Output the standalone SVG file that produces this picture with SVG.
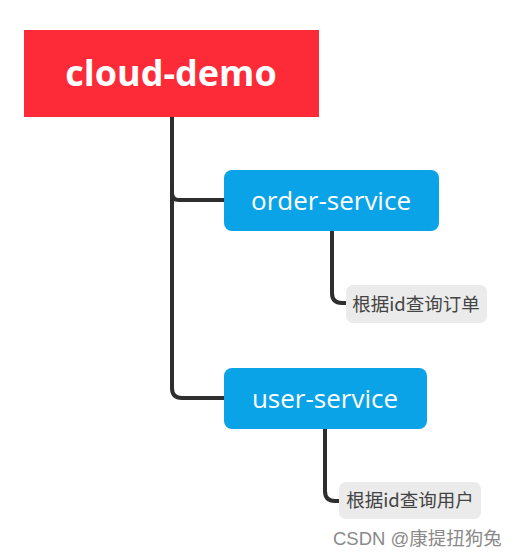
<svg xmlns="http://www.w3.org/2000/svg" width="520" height="556" viewBox="0 0 520 556">
<style>
.root{fill:#fd2b37}
.svc{fill:#0aa3e8}
.lbl{fill:#ebebeb}
.t1{font-family:"Open Sans",Lato,"Liberation Sans",sans-serif;font-weight:bold;font-size:36px;fill:#fff;text-anchor:middle}
.t2{font-family:"Open Sans",Lato,"Liberation Sans",sans-serif;font-size:26px;fill:#fff;text-anchor:middle}
.t3{font-family:"Noto Sans CJK SC","Noto Sans",sans-serif;font-size:18.5px;fill:#444;text-anchor:middle}
.wm{font-family:"Liberation Sans","Noto Sans CJK SC",sans-serif;font-size:18.5px;fill:#8a8a8a}
.c{fill:none;stroke:#2e2e2e;stroke-width:4;stroke-linecap:round}
</style>
<rect width="520" height="556" fill="#fff"/>
<g id="connectors">
<path class="c" d="M172,117 V388 Q172,398 182,398 H224"/>
<path class="c" d="M172,193 Q172,200 179,200 H224"/>
<path class="c" d="M332,231 V293 Q332,303 342,303 H347"/>
<path class="c" d="M325,429 V491 Q325,501 335,501 H340"/>
</g>
<g id="cloud-demo">
<rect class="root" x="24" y="30" width="295" height="87"/>
<text class="t1" x="171" y="86">cloud-demo</text>
</g>
<g id="order-service">
<rect class="svc" x="224" y="170" width="215" height="61" rx="8"/>
<text class="t2" x="331" y="210">order-service</text>
</g>
<g id="order-label">
<rect class="lbl" x="346" y="285" width="141" height="38" rx="7"/>
<text class="t3" x="416" y="311">根据id查询订单</text>
</g>
<g id="user-service">
<rect class="svc" x="224" y="368" width="203" height="61" rx="8"/>
<text class="t2" x="325" y="408">user-service</text>
</g>
<g id="user-label">
<rect class="lbl" x="339" y="482" width="142" height="37" rx="7"/>
<text class="t3" x="410" y="507">根据id查询用户</text>
</g>
<text class="wm" x="333" y="545">CSDN @康提扭狗兔</text>
</svg>
